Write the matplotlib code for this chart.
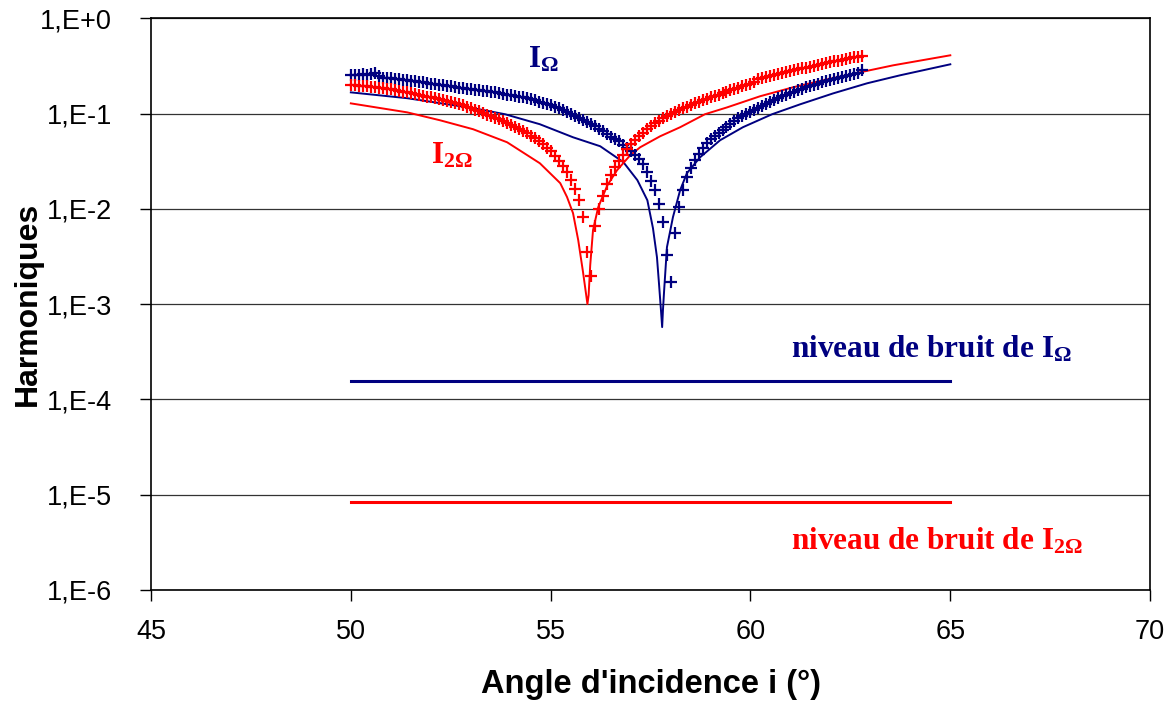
import numpy as np
import matplotlib
matplotlib.use("Agg")
import matplotlib.pyplot as plt

plt.rcParams['mathtext.fontset'] = 'custom'
plt.rcParams['mathtext.rm'] = 'Liberation Serif:bold'
plt.rcParams['mathtext.it'] = 'Liberation Serif:bold'
plt.rcParams['mathtext.bf'] = 'Liberation Serif:bold'

BLUE = '#000080'
RED = '#FF0000'

# measured points (angle grid 50.0 .. 62.8 deg, step 0.1)
meas_angle = np.round(np.arange(50.0, 62.85, 0.1), 1)

meas_I1 = [
    0.252, 0.252, 0.252, 0.259, 0.252, 0.259, 0.265, 0.246, 0.235, 0.235,
    0.235, 0.229, 0.229, 0.224, 0.224, 0.218, 0.218, 0.213, 0.213, 0.208,
    0.203, 0.203, 0.198, 0.198, 0.193, 0.193, 0.189, 0.184, 0.184, 0.180,
    0.180, 0.176, 0.176, 0.171, 0.171, 0.167, 0.167, 0.163, 0.159, 0.156,
    0.156, 0.152, 0.148, 0.148, 0.145, 0.141, 0.138, 0.132, 0.128, 0.125,
    0.122, 0.116, 0.114, 0.108, 0.103, 0.0984, 0.0938, 0.0893, 0.0851, 0.0811,
    0.0773, 0.0736, 0.0685, 0.0653, 0.0607, 0.0564, 0.0538, 0.0513, 0.0465, 0.0433,
    0.0402, 0.0365, 0.0332, 0.0294, 0.0242, 0.0195, 0.0157, 0.0112, 0.00725, 0.00326,
    0.00170, 0.00556, 0.0104, 0.0157, 0.0215, 0.0267, 0.0324, 0.0375, 0.0433, 0.0489,
    0.0538, 0.0578, 0.0622, 0.0669, 0.0719, 0.0773, 0.0831, 0.0893, 0.0938, 0.0984,
    0.103, 0.108, 0.114, 0.119, 0.125, 0.132, 0.138, 0.145, 0.152, 0.156,
    0.163, 0.167, 0.176, 0.180, 0.189, 0.193, 0.198, 0.203, 0.213, 0.218,
    0.224, 0.229, 0.235, 0.240, 0.246, 0.252, 0.259, 0.265, 0.285,
]

meas_I2 = [
    0.198, 0.198, 0.193, 0.193, 0.193, 0.189, 0.189, 0.184, 0.184, 0.180,
    0.180, 0.176, 0.171, 0.167, 0.167, 0.163, 0.159, 0.156, 0.152, 0.148,
    0.148, 0.145, 0.141, 0.138, 0.135, 0.132, 0.128, 0.125, 0.122, 0.116,
    0.114, 0.108, 0.106, 0.101, 0.0960, 0.0938, 0.0893, 0.0872, 0.0831, 0.0792,
    0.0754, 0.0719, 0.0685, 0.0653, 0.0622, 0.0578, 0.0551, 0.0513, 0.0477, 0.0433,
    0.0402, 0.0357, 0.0316, 0.0280, 0.0242, 0.0200, 0.0161, 0.0123, 0.00818, 0.00351,
    0.00197, 0.00658, 0.00992, 0.0136, 0.0181, 0.0225, 0.0274, 0.0316, 0.0365, 0.0422,
    0.0477, 0.0525, 0.0578, 0.0622, 0.0685, 0.0736, 0.0792, 0.0831, 0.0893, 0.0938,
    0.0984, 0.103, 0.108, 0.114, 0.116, 0.122, 0.128, 0.132, 0.138, 0.141,
    0.148, 0.152, 0.156, 0.163, 0.167, 0.176, 0.180, 0.184, 0.193, 0.198,
    0.203, 0.213, 0.229, 0.235, 0.240, 0.246, 0.252, 0.259, 0.265, 0.271,
    0.278, 0.285, 0.292, 0.299, 0.299, 0.306, 0.314, 0.321, 0.329, 0.337,
    0.345, 0.354, 0.354, 0.362, 0.371, 0.380, 0.390, 0.390, 0.399,
]

# theory curves
theo_I1_angle = [50.0, 51.41, 53.06, 53.86, 54.73, 55.56, 56.24, 56.82, 57.17, 57.42,
                 57.56, 57.66, 57.71, 57.76, 57.79, 57.81, 57.84, 57.91, 58.06, 58.24,
                 58.41, 58.74, 59.24, 59.81, 60.54, 61.24, 62.07, 62.92, 63.74, 65.0]
theo_I1 = [0.167, 0.145, 0.114, 0.0984, 0.0773, 0.0564, 0.0454, 0.0309, 0.0200, 0.0123,
           0.00627, 0.00311, 0.00166, 0.000865, 0.000574, 0.000865, 0.00140, 0.00396, 0.00818, 0.0157,
           0.0237, 0.0348, 0.0525, 0.0719, 0.0984, 0.125, 0.163, 0.208, 0.252, 0.329]

theo_I2_angle = [50.0, 51.41, 52.23, 53.06, 53.91, 54.73, 55.24, 55.41, 55.56, 55.69,
                 55.81, 55.89, 55.92, 55.95, 55.99, 56.06, 56.19, 56.42, 56.66, 56.99,
                 57.24, 57.74, 58.24, 58.86, 59.41, 60.24, 61.07, 61.92, 62.74, 63.57, 65.0]
theo_I2 = [0.128, 0.103, 0.0851, 0.0685, 0.0500, 0.0301, 0.0186, 0.0133, 0.00901, 0.00469,
           0.00217, 0.00124, 0.00100, 0.00124, 0.00256, 0.00597, 0.0104, 0.0177, 0.0254, 0.0365,
           0.0443, 0.0578, 0.0719, 0.0984, 0.116, 0.152, 0.189, 0.229, 0.271, 0.321, 0.409]

# noise levels
noise_angle = [50.0, 65.0]
noise_I1 = [1.56e-4, 1.56e-4]
noise_I2 = [8.4e-6, 8.4e-6]

ytick_vals = [1e0, 1e-1, 1e-2, 1e-3, 1e-4, 1e-5, 1e-6]
ytick_labels = ['1,E+0', '1,E-1', '1,E-2', '1,E-3', '1,E-4', '1,E-5', '1,E-6']
xtick_vals = [45, 50, 55, 60, 65, 70]

fig = plt.figure(figsize=(11.76, 7.04), dpi=100)
ax = fig.add_axes([0.1284, 0.162, 0.8496, 0.812])

ax.set_yscale('log')
ax.set_xlim(45, 70)
ax.set_ylim(1e-6, 1e0)

for v in ytick_vals:
    ax.axhline(v, color='#333333', lw=0.9, zorder=1)

ax.plot(theo_I1_angle, theo_I1, color=BLUE, lw=1.4, zorder=3)
ax.plot(theo_I2_angle, theo_I2, color=RED, lw=1.4, zorder=3)
ax.plot(meas_angle, meas_I1, linestyle='none', marker='+', ms=8, mew=1.6, color=BLUE, zorder=4)
ax.plot(meas_angle, meas_I2, linestyle='none', marker='+', ms=8, mew=1.6, color=RED, zorder=4)
ax.plot(noise_angle, noise_I1, color=BLUE, lw=2.2, zorder=3)
ax.plot(noise_angle, noise_I2, color=RED, lw=2.2, zorder=3)

ax.set_yticks(ytick_vals)
ax.set_yticklabels(ytick_labels)
ax.yaxis.set_minor_locator(matplotlib.ticker.NullLocator())
ax.set_xticks(xtick_vals)
ax.tick_params(axis='both', direction='out', length=8, width=1, labelsize=19.5, colors='black')
ax.tick_params(axis='y', pad=20)
ax.tick_params(axis='x', pad=13)
for lab in ax.get_xticklabels() + ax.get_yticklabels():
    lab.set_family('Liberation Sans')

for s in ax.spines.values():
    s.set_color('black')
    s.set_linewidth(1.2)

ax.set_xlabel("Angle d'incidence i (°)", fontsize=23.5, fontweight='bold',
              family='Liberation Sans', labelpad=17)
ax.set_ylabel('Harmoniques', fontsize=23, fontweight='bold',
              family='Liberation Sans', labelpad=-2)

txt = dict(family='Liberation Serif', fontweight='bold', fontsize=22.5)
ax.text(54.43, 0.306, r'I$_{\Omega}$', color=BLUE, ha='left', va='baseline', **txt)
ax.text(52.0, 0.0301, r'I$_{2\Omega}$', color=RED, ha='left', va='baseline', **txt)
ax.text(61.02, 2.78e-4, r'niveau de bruit de I$_{\Omega}$', color=BLUE,
        ha='left', va='baseline', **txt)
ax.text(61.02, 2.69e-6, r'niveau de bruit de I$_{2\Omega}$', color=RED,
        ha='left', va='baseline', **txt)

fig.savefig('out.png', dpi=100)
